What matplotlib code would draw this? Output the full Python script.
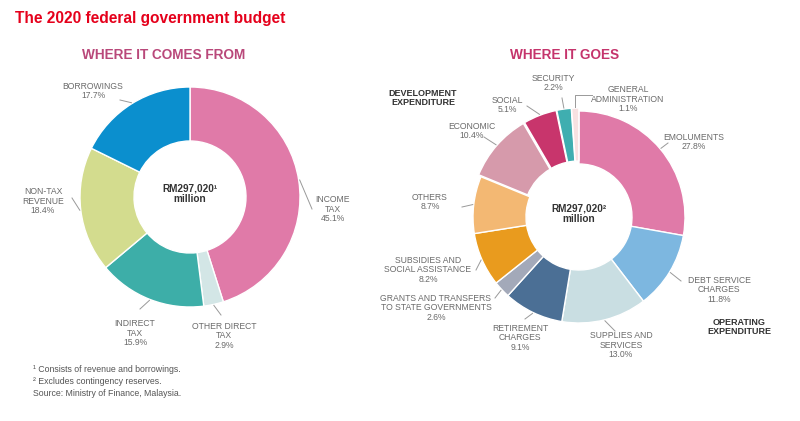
import matplotlib
matplotlib.use("Agg")
import matplotlib.pyplot as plt
from matplotlib import font_manager
import numpy as np

# ---- data ----
income_labels = ["INCOME\nTAX", "OTHER DIRECT\nTAX", "INDIRECT\nTAX", "NON-TAX\nREVENUE", "BORROWINGS"]
income_values = [45.1, 2.9, 15.9, 18.4, 17.7]
income_colors = ["#E07AA8", "#D3E6E6", "#3DAEA8", "#D3DC8E", "#0B8FCE"]

spend_labels = ["EMOLUMENTS", "DEBT SERVICE\nCHARGES", "SUPPLIES AND\nSERVICES", "RETIREMENT\nCHARGES",
                "GRANTS AND TRANSFERS\nTO STATE GOVERNMENTS", "SUBSIDIES AND\nSOCIAL ASSISTANCE", "OTHERS",
                "ECONOMIC", "SOCIAL", "SECURITY", "GENERAL\nADMINISTRATION"]
spend_values = [27.8, 11.8, 13.0, 9.1, 2.6, 8.2, 8.7, 10.4, 5.1, 2.2, 1.1]
spend_colors = ["#E07AA8", "#7DB7E0", "#C9DEE2", "#4B6F95", "#A3A9B9", "#E99B1E", "#F3B873",
                "#D69AAB", "#C8356C", "#3FAEB0", "#F7E1E1"]
spend_dev = [False] * 7 + [True] * 4

# ---- fonts ----
names = {f.name for f in font_manager.fontManager.ttflist}
narrow = "Liberation Sans Narrow" if "Liberation Sans Narrow" in names else "Liberation Sans"
plt.rcParams["font.family"] = [narrow, "DejaVu Sans"]
wide = ["Liberation Sans", "DejaVu Sans"]

W, H = 800, 421
fig = plt.figure(figsize=(W / 100, H / 100), dpi=100)
ax = fig.add_axes([0, 0, 1, 1])

# ---- layout (pixel coords, y down) ----
left_c, left_r, left_w = (190, 197), 110, 54
right_c, right_r, right_w = (579, 217), 106, 53

left_text = [(333, 209), (224, 336), (135, 333), (43, 201), (93, 91)]
left_tip = [(312, 209), (221, 315), (140, 309), (72, 198), (120, 100)]
right_text = [(694, 142), (719, 290), (621, 345), (520, 338), (436, 308), (428, 270), (430, 202),
              (472, 131), (507, 105), (553, 83), (628, 99)]
right_tip = [(668, 143), (681, 281), (615, 331), (525, 319), (495, 298), (476, 270), (462, 207),
             (484, 137), (527, 106), (562, 98), (592, 95)]

gray = "#6b6b6b"


def donut(values, colors, labels, center, r, w, texts, tips, explode=None):
    wedges, _ = ax.pie(values, colors=colors, center=center, radius=r, startangle=-90,
                       counterclock=True, explode=explode,
                       wedgeprops=dict(width=w, edgecolor="white", linewidth=1.0))
    for wd, lab, val, (tx, ty), (px, py) in zip(wedges, labels, values, texts, tips):
        ang = np.deg2rad((wd.theta1 + wd.theta2) / 2)
        cx, cy = wd.center
        ex, ey = cx + (r + 1) * np.cos(ang), cy + (r + 1) * np.sin(ang)
        if lab.startswith("GENERAL"):
            ax.plot([px, ex, ex], [py, py, ey], color="#999999", lw=0.7)
        else:
            ax.plot([px, ex], [py, ey], color="#999999", lw=0.7)
        ax.text(tx, ty, f"{lab}\n{val:.1f}%", ha="center", va="center", fontsize=6.2,
                color=gray, linespacing=1.05)
    return wedges


donut(income_values, income_colors, income_labels, left_c, left_r, left_w, left_text, left_tip)
donut(spend_values, spend_colors, spend_labels, right_c, right_r, right_w, right_text, right_tip,
      explode=[3 if d else 0 for d in spend_dev])

ax.set_xlim(0, W)
ax.set_ylim(H, 0)
ax.set_aspect("auto")
ax.axis("off")

# ---- text ----
ax.text(15, 19, "The 2020 federal government budget", fontsize=11.2, fontweight="bold",
        color="#E5001B", ha="left", va="center")
ax.text(164, 55, "WHERE IT COMES FROM", fontsize=9.8, fontweight="bold", color="#B9487A",
        ha="center", va="center", family=wide)
ax.text(565, 55, "WHERE IT GOES", fontsize=9.8, fontweight="bold", color="#C5346C",
        ha="center", va="center", family=wide)

for (cx, cy), sup in [(left_c, "\u00b9"), (right_c, "\u00b2")]:
    ax.text(cx, cy - 3, f"RM297,020{sup}\nmillion", fontsize=7.2, fontweight="bold", color="#333333",
            ha="center", va="center", linespacing=1.1, family=wide)

ax.text(423, 98, "DEVELOPMENT\nEXPENDITURE", fontsize=6.5, fontweight="bold", color="#333333",
        ha="center", va="center", linespacing=1.0, family=wide)
ax.text(739, 327, "OPERATING\nEXPENDITURE", fontsize=6.5, fontweight="bold", color="#333333",
        ha="center", va="center", linespacing=1.0, family=wide)

ax.text(33, 370, "\u00b9 Consists of revenue and borrowings.", fontsize=6.3, color="#555555", va="center")
ax.text(33, 382, "\u00b2 Excludes contingency reserves.", fontsize=6.3, color="#555555", va="center")
ax.text(33, 394, "Source: Ministry of Finance, Malaysia.", fontsize=6.3, color="#555555", va="center")

fig.savefig("out.png", dpi=100)
